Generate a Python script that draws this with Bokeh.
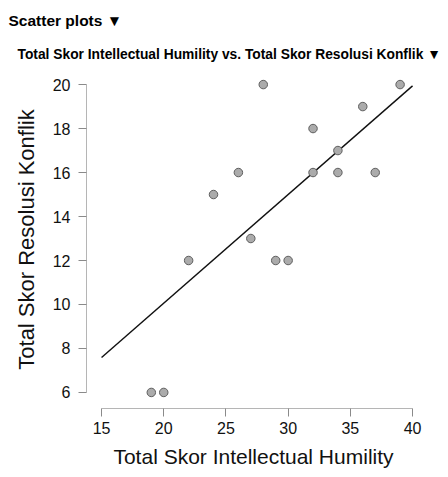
from bokeh.plotting import figure
from bokeh.models import Range1d, Title, FixedTicker
from bokeh.embed import file_html
from bokeh.resources import INLINE

# Data
humility = [19, 20, 22, 24, 26, 27, 28, 29, 30, 32, 32, 34, 34, 36, 37, 39]
konflik = [6, 6, 12, 15, 16, 13, 20, 12, 12, 18, 16, 17, 16, 19, 16, 20]
fit_intercept = 0.18
fit_slope = 0.494
x_ticks = [15, 20, 25, 30, 35, 40]
y_ticks = [6, 8, 10, 12, 14, 16, 18, 20]

FONT = "Liberation Sans"

p = figure(width=448, height=477, output_backend="svg", toolbar_location=None,
           x_range=Range1d(13.79, 40.64), y_range=Range1d(5.27, 20.64),
           min_border_left=86, min_border_right=28, min_border_top=70,
           min_border_bottom=69, outline_line_color=None,
           background_fill_color="white", border_fill_color="white")
p.title.visible = False

t2 = Title(text="Total Skor Intellectual Humility vs. Total Skor Resolusi Konflik \u25BC",
           text_font=FONT, text_font_size="13.8px", text_font_style="bold",
           text_color="#000000", offset=-69, standoff=18)
t1 = Title(text="Scatter plots \u25BC", text_font=FONT, text_font_size="15.5px",
           text_font_style="bold", text_color="#000000", offset=-78, standoff=13)
p.add_layout(t2, "above")
p.add_layout(t1, "above")

p.grid.visible = False

for ax, ticks in ((p.xaxis, x_ticks), (p.yaxis, y_ticks)):
    ax.ticker = FixedTicker(ticks=ticks)
    ax.bounds = (ticks[0], ticks[-1])
    ax.axis_line_color = "#b5b5b5"
    ax.major_tick_line_color = "#8a8a8a"
    ax.major_tick_out = 8
    ax.major_tick_in = 0
    ax.minor_tick_line_color = None
    ax.major_label_text_font = FONT
    ax.major_label_text_font_size = "16px"
    ax.major_label_text_color = "#111111"
    ax.axis_label_text_font = FONT
    ax.axis_label_text_font_style = "normal"
    ax.axis_label_text_color = "#111111"

p.xaxis.axis_label = "Total Skor Intellectual Humility"
p.yaxis.axis_label = "Total Skor Resolusi Konflik"
p.xaxis.axis_label_text_font_size = "21px"
p.yaxis.axis_label_text_font_size = "22px"
p.xaxis.major_label_standoff = 5
p.yaxis.major_label_standoff = 8
p.xaxis.axis_label_standoff = 8
p.yaxis.axis_label_standoff = 11

line_x = [x_ticks[0], x_ticks[-1]]
line_y = [fit_intercept + fit_slope * v for v in line_x]
p.line(line_x, line_y, line_color="#111111", line_width=1.4)

p.scatter(humility, konflik, size=8.5, fill_color="#ababab",
          line_color="#5e5e5e", line_width=1)

open("out.html", "w").write(file_html(p, INLINE))
